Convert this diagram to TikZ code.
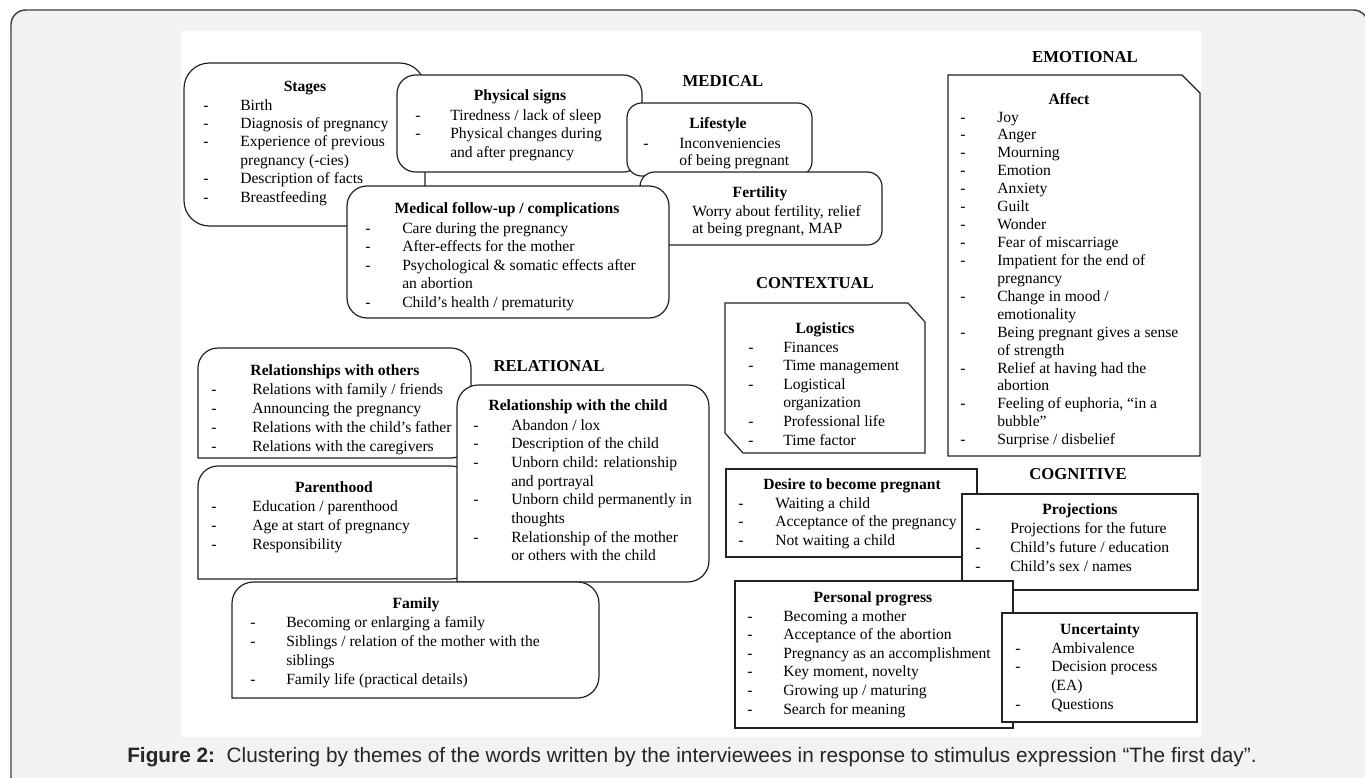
\documentclass[tikz,border=0pt]{standalone}
\usepackage{fontspec}
\setmainfont{Liberation Serif}
\newfontfamily\capfont{Liberation Sans}
\usetikzlibrary{positioning}
\definecolor{pagegray}{HTML}{F1F2F4}
\definecolor{inkline}{HTML}{222222}
\newcommand{\dashlist}[2]{\begin{tabular}[t]{@{}p{#1}@{}l@{}}#2\end{tabular}}

\begin{document}
\begin{tikzpicture}[
	x=0.75pt, y=-0.75pt,
	frame/.style = {
		draw=black!75, fill=pagegray,
		line width=1.1pt, rounded corners=11pt
	},
	box/.style = {
		draw=inkline, fill=white,
		line width=0.9pt
	},
	theme/.style = {
		anchor=base, inner sep=0,
		font=\fontsize{11.7pt}{14pt}\bfseries
	},
	group/.style = {
		anchor=base, inner sep=0,
		font=\fontsize{12.5pt}{15pt}\bfseries
	},
	items/.style = {
		anchor=base west, inner sep=0,
		font=\fontsize{11.7pt}{#1}\selectfont
	},
	items/.default=14pt
]
	\useasboundingbox (0,0) rectangle (1365,778);
	% Page and panel
	\begin{scope}
		\clip (0,0) rectangle (1365,778);
		\draw[frame] (11,10) rectangle (1368,792);
	\end{scope}
	\fill[white] (181,31) rectangle (1201,737);
	% MEDICAL
	\node[group] (medical) at (723,86) {MEDICAL};
	\draw[box, rounded corners=19pt] (184,63) rectangle (425,226);
	\node[theme] (stages) at (305,91) {Stages};
	\node[items=13.8pt] (stagesL) at (203,110) {\dashlist{27.75pt}{%
		-&Birth\\-&Diagnosis of pregnancy\\-&Experience of previous\\
		&pregnancy (-cies)\\-&Description of facts\\-&Breastfeeding}};
	\draw[box, rounded corners=14pt] (397,75) rectangle (642,172);
	\node[theme] (signs) at (520,100) {Physical signs};
	\node[items=13.9pt] (signsL) at (415,120) {\dashlist{26.25pt}{%
		-&Tiredness / lack of sleep\\-&Physical changes during\\
		&and after pregnancy}};
	\draw[box, rounded corners=11pt] (627,103) rectangle (812,176);
	\node[theme] (life) at (718,128) {Lifestyle};
	\node[items=12.9pt] (lifeL) at (643,148) {\dashlist{27pt}{%
		-&Inconveniencies\\&of being pregnant}};
	\draw[box, rounded corners=11pt] (640,172) rectangle (882,245);
	\node[theme] (fert) at (760,197) {Fertility};
	\node[items=12.9pt] (fertL) at (692,216) {\begin{tabular}[t]{@{}l@{}}%
		Worry about fertility, relief\\at being pregnant, MAP\end{tabular}};
	\draw[box, rounded corners=15pt] (347,186) rectangle (669,318);
	\node[theme] (follow) at (507,213) {Medical follow-up / complications};
	\node[items=13.9pt] (followL) at (365,233) {\dashlist{27.75pt}{%
		-&Care during the pregnancy\\-&After-effects for the mother\\
		-&Psychological \& somatic effects after\\&an abortion\\
		-&Child’s health / prematurity}};
	% EMOTIONAL
	\node[group] (emotional) at (1085,62) {EMOTIONAL};
	\draw[box] (948,75) -- (1182,75) -- (1200,93) -- (1200,456) -- (948,456) -- cycle;
	\node[theme] (affect) at (1069,104) {Affect};
	\node[items=13.45pt] (affectL) at (960,122) {\dashlist{27.75pt}{%
		-&Joy\\-&Anger\\-&Mourning\\-&Emotion\\-&Anxiety\\-&Guilt\\-&Wonder\\
		-&Fear of miscarriage\\-&Impatient for the end of\\&pregnancy\\
		-&Change in mood /\\&emotionality\\
		-&Being pregnant gives a sense\\&of strength\\
		-&Relief at having had the\\&abortion\\
		-&Feeling of euphoria, “in a\\&bubble”\\-&Surprise / disbelief}};
	% CONTEXTUAL
	\node[group] (contextual) at (815,288) {CONTEXTUAL};
	\draw[box] (725,303) -- (908,303) -- (925,322) -- (925,453) -- (743,453) -- (725,433) -- cycle;
	\node[theme] (logis) at (825,333) {Logistics};
	\node[items=13.95pt] (logisL) at (748,352) {\dashlist{26.25pt}{%
		-&Finances\\-&Time management\\-&Logistical\\&organization\\
		-&Professional life\\-&Time factor}};
	% RELATIONAL
	\node[group] (relational) at (549,371) {RELATIONAL};
	\draw[box] (198,458) [rounded corners=15pt] -- (198,348) -- (471,348) -- (471,458) [sharp corners] -- cycle;
	\node[theme] (others) at (335,375) {Relationships with others};
	\node[items=14.25pt] (othersL) at (211,394) {\dashlist{30.75pt}{%
		-&Relations with family / friends\\-&Announcing the pregnancy\\
		-&Relations with the child’s father\\-&Relations with the caregivers}};
	\draw[box] (198,579) [rounded corners=15pt] -- (198,466) -- (471,466) -- (471,579) [sharp corners] -- cycle;
	\node[theme] (parent) at (334,492) {Parenthood};
	\node[items=14.25pt] (parentL) at (211,511) {\dashlist{30.75pt}{%
		-&Education / parenthood\\-&Age at start of pregnancy\\-&Responsibility}};
	\draw[box] (457,582) [rounded corners=16pt] -- (457,385) -- (709,385) -- (709,582) [sharp corners] -- cycle;
	\node[theme] (child) at (578,410) {Relationship with the child};
	\node[items=14pt] (childL) at (473,430) {\dashlist{28.5pt}{%
		-&Abandon / lox\\-&Description of the child\\
		-&Unborn child: relationship\\&and portrayal\\
		-&Unborn child permanently in\\&thoughts\\
		-&Relationship of the mother\\&or others with the child}};
	\draw[box] (232,698) [rounded corners=16pt] -- (232,582) -- (599,582) -- (599,698) [sharp corners] -- cycle;
	\node[theme] (family) at (416,608) {Family};
	\node[items=14.25pt] (familyL) at (250,627) {\dashlist{27pt}{%
		-&Becoming or enlarging a family\\
		-&Siblings / relation of the mother with the\\&siblings\\
		-&Family life (practical details)}};
	% COGNITIVE
	\node[group] (cognitive) at (1078,479) {COGNITIVE};
	\draw[box] (726,469) rectangle (977,557);
	\node[theme] (desire) at (852,489) {Desire to become pregnant};
	\node[items=13.9pt] (desireL) at (738,508) {\dashlist{27.75pt}{%
		-&Waiting a child\\-&Acceptance of the pregnancy\\-&Not waiting a child}};
	\draw[box] (962,494) rectangle (1198,590);
	\node[theme] (proj) at (1080,514) {Projections};
	\node[items=14.25pt] (projL) at (975,533) {\dashlist{26.25pt}{%
		-&Projections for the future\\-&Child’s future / education\\
		-&Child’s sex / names}};
	\draw[box] (735,581) rectangle (1013,728);
	\node[theme] (progress) at (873,602) {Personal progress};
	\node[items=13.95pt] (progressL) at (747,621) {\dashlist{27pt}{%
		-&Becoming a mother\\-&Acceptance of the abortion\\
		-&Pregnancy as an accomplishment\\-&Key moment, novelty\\
		-&Growing up / maturing\\-&Search for meaning}};
	\draw[box] (1002,613) rectangle (1197,722);
	\node[theme] (uncert) at (1100,634) {Uncertainty};
	\node[items=14pt] (uncertL) at (1015,653) {\dashlist{27pt}{%
		-&Ambivalence\\-&Decision process\\&(EA)\\-&Questions}};
	% Caption
	\node[anchor=base, inner sep=0, text=black!85,
		font=\capfont\fontsize{15.6pt}{18pt}\selectfont] (caption) at (692,762)
		{\textbf{Figure 2:}\ \ Clustering by themes of the words written by the interviewees in response to stimulus expression “The first day”.};
\end{tikzpicture}
\end{document}
